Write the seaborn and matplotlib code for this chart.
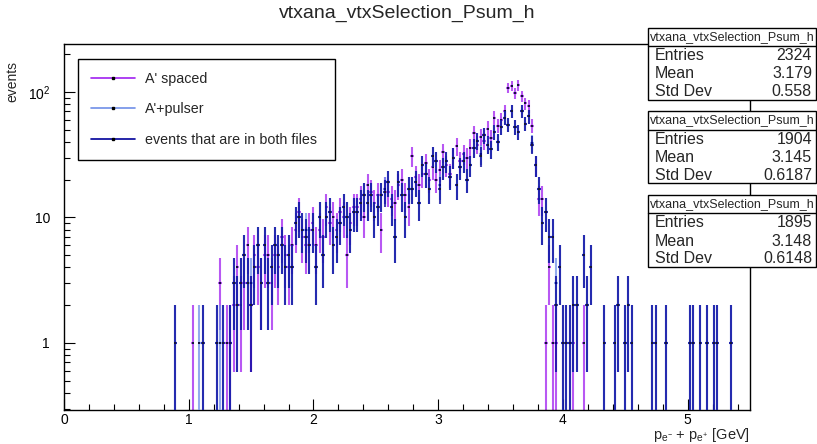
import numpy as np
import pandas as pd
import seaborn as sns
import matplotlib
matplotlib.use('Agg')
import matplotlib.pyplot as plt
from matplotlib.lines import Line2D
from matplotlib.patches import Rectangle
from matplotlib.ticker import MultipleLocator, LogLocator, NullFormatter, FuncFormatter

sns.set_theme(style='white')
plt.rcParams['font.family'] = ['Liberation Sans', 'DejaVu Sans']
plt.rcParams['mathtext.fontset'] = 'custom'
plt.rcParams['mathtext.rm'] = 'Liberation Sans'
plt.rcParams['mathtext.it'] = 'Liberation Sans:italic'

# histogram: 200 bins between 0 and 5.5 GeV, lists start at bin 32
bin_width = 0.0275
first_bin = 32

spaced_counts = [
    0, 0, 0, 0, 0, 1, 0, 0, 0, 0,
    0, 0, 0, 3, 0, 1, 1, 2, 4, 2,
    3, 6, 2, 5, 4, 3, 5, 5, 3, 5,
    4, 7, 5, 4, 6, 8, 11, 7, 6, 8,
    9, 6, 8, 7, 12, 9, 10, 8, 11, 10,
    5, 9, 12, 12, 14, 10, 18, 16, 13, 15,
    8, 17, 16, 14, 13, 18, 20, 15, 12, 31,
    21, 18, 22, 27, 20, 25, 20, 24, 33, 26,
    22, 30, 37, 28, 32, 30, 36, 47, 38, 44,
    41, 51, 43, 62, 54, 60, 70, 108, 112, 98,
    113, 92, 81, 77, 54, 26, 14, 14, 1, 4,
    1, 1, 0, 0, 0, 0, 1, 0, 0, 1,
]

pulser_counts = [
    1, 0, 0, 0, 0, 0, 0, 1, 1, 0,
    0, 0, 1, 1, 1, 0, 1, 3, 2, 3,
    5, 3, 3, 4, 6, 3, 6, 3, 4, 6,
    5, 6, 4, 5, 4, 9, 10, 8, 8, 6,
    8, 4, 10, 5, 10, 11, 6, 7, 9, 12,
    10, 8, 11, 11, 13, 15, 13, 15, 10, 12,
    15, 17, 19, 12, 7, 19, 15, 10, 17, 17,
    19, 13, 26, 22, 17, 31, 28, 18, 25, 28,
    21, 30, 18, 25, 28, 20, 26, 36, 41, 32,
    45, 38, 35, 48, 40, 53, 62, 55, 70, 53,
    48, 70, 56, 64, 39, 26, 17, 9, 11, 7,
    7, 3, 4, 1, 1, 1, 2, 2, 0, 5,
    2, 4, 0, 0, 0, 1, 0, 0, 1, 2,
    0, 1, 2, 1, 0, 0, 0, 0, 0, 1,
    1, 0, 0, 1, 0, 0, 0, 0, 0, 0,
    1, 1, 0, 1, 0, 1, 0, 1, 1, 0,
    0, 0, 1,
]

both_counts = [
    1, 0, 0, 0, 0, 0, 0, 0, 1, 0,
    0, 0, 1, 0, 1, 0, 1, 3, 2, 3,
    5, 3, 2, 4, 6, 3, 6, 3, 4, 6,
    5, 6, 4, 5, 4, 9, 10, 8, 7, 6,
    8, 4, 10, 5, 10, 11, 6, 7, 9, 12,
    10, 8, 11, 11, 13, 15, 13, 15, 10, 12,
    15, 16, 19, 12, 7, 19, 15, 10, 17, 17,
    19, 13, 26, 22, 17, 31, 28, 17, 25, 28,
    21, 30, 18, 25, 28, 20, 26, 36, 41, 31,
    45, 38, 35, 48, 40, 53, 62, 55, 70, 53,
    48, 70, 56, 64, 38, 26, 17, 9, 11, 7,
    7, 2, 4, 1, 1, 1, 2, 2, 0, 5,
    2, 4, 0, 0, 0, 1, 0, 0, 1, 2,
    0, 1, 2, 1, 0, 0, 0, 0, 0, 1,
    1, 0, 0, 1, 0, 0, 0, 0, 0, 0,
    1, 1, 0, 1, 0, 1, 0, 1, 1, 0,
    0, 0, 1,
]

series_names = ["A' spaced", "A'+pulser", "events that are in both files"]
series_colors = ['#a020f0', '#6f8fe8', '#00009a']

hist_name = 'vtxana_vtxSelection_Psum_h'
stat_entries = ['2324', '1904', '1895']
stat_means = ['3.179', '3.145', '3.148']
stat_stds = ['0.558', '0.6187', '0.6148']

frames = []
for name, counts in zip(series_names, [spaced_counts, pulser_counts, both_counts]):
    counts = np.array(counts, dtype=float)
    p = (first_bin + np.arange(len(counts)) + 0.5) * bin_width
    frames.append(pd.DataFrame({'p': p, 'events': counts, 'series': name}))
df = pd.concat(frames, ignore_index=True)
df = df[df['events'] > 0]

W, H = 817, 444
fig = plt.figure(figsize=(W / 100, H / 100), dpi=100)
ax = fig.add_axes([64 / W, 34 / H, 686 / W, 366 / H])
ax.set_yscale('log')

for k, (name, color) in enumerate(zip(series_names, series_colors)):
    d = df[df['series'] == name]
    n = d['events'].values
    err = np.sqrt(n)
    lo = n - np.maximum(n - err, 0.05)
    ax.errorbar(d['p'], n, xerr=bin_width / 2, yerr=[lo, err], fmt='none',
                ecolor=color, elinewidth=1.5, alpha=0.75, zorder=2 + k)
    sns.scatterplot(x=d['p'], y=n, ax=ax, color='#14143a', s=3, marker='s',
                    linewidth=0, legend=False, zorder=2.5 + k)

ax.set_xlim(0, 5.5)
ax.set_ylim(0.292, 241)
ax.set_xlabel('')
ax.set_ylabel('')

for s in ax.spines.values():
    s.set_color('black')
    s.set_linewidth(1.0)

ax.xaxis.set_major_locator(MultipleLocator(1))
ax.xaxis.set_minor_locator(MultipleLocator(0.2))
ax.yaxis.set_major_locator(LogLocator(base=10))
ax.yaxis.set_minor_locator(LogLocator(base=10, subs=np.arange(2, 10)))
ax.yaxis.set_minor_formatter(NullFormatter())
ylabels = {1: '1', 10: '10', 100: '$\\mathregular{10^{2}}$'}
ax.yaxis.set_major_formatter(FuncFormatter(lambda v, pos: ylabels.get(int(round(v)), '')))
ax.tick_params(which='both', direction='in', bottom=True, left=True, top=False, right=False,
               colors='black', labelsize=10)
ax.tick_params(which='major', length=8, width=0.8)
ax.tick_params(which='minor', length=4.3, width=0.8)
ax.tick_params(axis='x', pad=2.5)
ax.tick_params(axis='y', pad=10)

handles = [Line2D([0], [0], color=c, lw=1.2, marker='s', markersize=1.5,
                  markerfacecolor='black', markeredgecolor='black') for c in series_colors]
leg = ax.legend(handles, series_names, loc='upper left',
                bbox_to_anchor=(14 / 686, 351 / 366, 257 / 686, 0), mode='expand',
                fontsize=10.3, frameon=True, fancybox=False, edgecolor='black',
                framealpha=1, borderaxespad=0, borderpad=0.9, labelspacing=1.15,
                handlelength=3.1, handletextpad=0.7)
leg.get_frame().set_linewidth(1.0)

fig.text(407 / W, 1 - 13 / H, hist_name, ha='center', va='center', fontsize=14)
fig.text(12 / W, 1 - 82 / H, 'events', rotation=90, ha='center', va='center', fontsize=10)
fig.text(750 / W, 1 - 435 / H, 'p$_{\\mathrm{e^{-}}}$ + p$_{\\mathrm{e^{+}}}$ [GeV]',
         ha='right', va='center', fontsize=10.5)

# statistics boxes
box_tops = [28, 111.5, 195]
for top, ent, mean, std in zip(box_tops, stat_entries, stat_means, stat_stds):
    fig.add_artist(Rectangle((648 / W, 1 - (top + 72) / H), 168 / W, 72 / H,
                             transform=fig.transFigure, facecolor='white',
                             edgecolor='black', linewidth=1.0, zorder=10))
    fig.add_artist(Line2D([648 / W, 816 / W], [1 - (top + 18) / H] * 2,
                          transform=fig.transFigure, color='black', lw=1.0, zorder=11))
    fig.text(732 / W, 1 - (top + 9) / H, hist_name, ha='center', va='center',
             fontsize=9, zorder=12)
    for off, lab, val in zip([27.5, 46, 63.5], ['Entries', 'Mean', 'Std Dev'], [ent, mean, std]):
        fig.text(655 / W, 1 - (top + off) / H, lab, ha='left', va='center', fontsize=11.5, zorder=12)
        fig.text(812 / W, 1 - (top + off) / H, val, ha='right', va='center', fontsize=11.5, zorder=12)

fig.savefig('out.png', dpi=100, facecolor='white')
